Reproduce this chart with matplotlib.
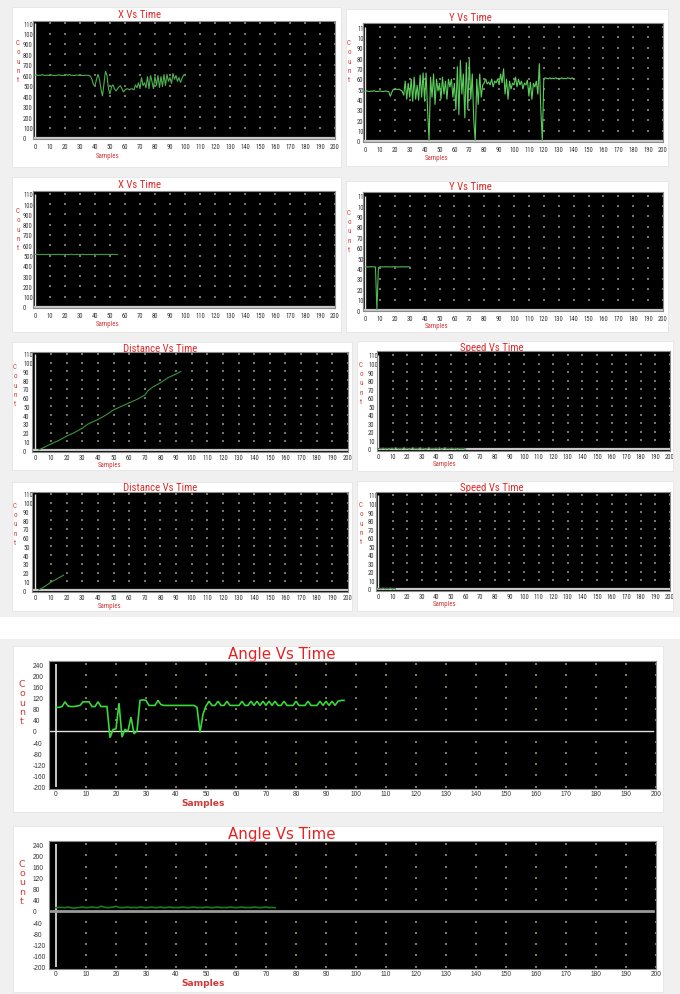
import numpy as np
import matplotlib
matplotlib.use("Agg")
import matplotlib.pyplot as plt
from matplotlib.transforms import Bbox, TransformedBbox
from matplotlib.patches import Rectangle
from matplotlib import font_manager

# ---------------- data ----------------
x_vs_time_1 = [600, 605, 598, 602, 600, 608, 600, 598, 602, 600,
               600, 603, 600, 597, 600, 600, 605, 600, 600, 600,
               602, 606, 600, 608, 600, 600, 598, 600, 603, 600,
               600, 600, 598, 600, 600, 600, 600,
               590, 560, 510, 500, 560, 610, 560, 470, 400, 520,
               640, 600, 470, 420, 490, 510, 470, 450, 470, 490,
               500, 470, 440, 460, 470, 470, 460, 470, 470, 460,
               510, 480, 530, 470, 580, 500, 530, 480, 590, 470,
               600, 540, 470, 590, 500, 600, 480, 590, 490, 610,
               500, 610, 540, 580, 520, 620, 560, 600, 540, 580,
               530, 570, 600, 610]

y_vs_time_1 = [480, 485, 480, 478, 482, 480, 485, 480, 478, 480,
               482, 480, 478, 480, 482, 480, 475, 430, 470, 500,
               495, 500, 498, 500, 490, 480, 440, 580, 400, 560,
               420, 600, 380, 620, 400, 540, 390, 640, 420, 660,
               380, 660, 300, 0, 620, 420, 650, 350, 600, 480,
               560, 400, 620, 450, 580, 400, 600, 520, 600, 420,
               560, 300, 720, 250, 780, 450, 650, 220, 760, 300,
               790, 400, 650, 200, 0, 600, 350, 650, 420, 540,
               560, 600, 550, 570, 540, 600, 520, 580, 560, 600,
               540, 650, 560, 700, 450, 600, 400, 580, 500, 560,
               540, 620, 520, 600, 540, 580, 500, 560, 540, 590,
               430, 570, 400, 560, 520, 580, 450, 750, 300, 0,
               600, 610, 605, 600, 610, 600, 605, 600, 610, 600,
               605, 600, 610, 600, 605, 600, 610, 605, 600, 610, 600]

x_vs_time_2 = [510, 512, 510, 508, 510, 511, 510, 509, 510, 512,
               510, 508, 510, 511, 509, 510, 512, 510, 508, 510,
               511, 510, 509, 510, 512, 510, 508, 510, 511, 510,
               509, 510, 512, 510, 508, 510, 511, 510, 509, 510,
               512, 510, 508, 510, 511, 510, 509, 510, 512, 510,
               508, 510, 511, 510, 509, 510]

y_vs_time_2 = [415, 415, 414, 415, 416, 415, 415, 414, 0, 405,
               415, 415, 414, 415, 416, 415, 415, 414, 415, 415,
               416, 415, 414, 415, 415, 416, 415, 414, 415, 415, 415]

distance_1_samples = [2, 10, 15, 20, 25, 30, 33, 35, 40, 45, 50, 55, 60, 65, 70, 72, 75, 80, 85, 90, 93]
distance_1_values = [0, 7, 11, 16, 20, 25, 29, 31, 35, 40, 46, 50, 54, 58, 63, 68, 72, 77, 83, 87, 90]

speed_1 = [0, 1, 0, 1, 1, 0, 1, 0, 0, 1, 1, 0, 2, 1, 0, 1, 0, 1, 2, 0,
           1, 0, 0, 1, 2, 0, 1, 0, 1, 2, 0, 1, 0, 0, 1, 2, 0, 1, 0, 1,
           1, 0, 2, 0, 0, 1, 2, 0, 1, 0, 1, 1, 0, 1, 0, 0, 1, 0, 1, 0, 0]

distance_2_samples = [2, 5, 10, 14, 18]
distance_2_values = [0, 3, 9, 13, 17]

speed_2 = [0, 1, 0, 1, 1, 0, 1, 0, 1, 1, 0, 1, 0]

angle_1 = [85, 85, 88, 105, 90, 88, 88, 90, 92, 105,
           105, 105, 88, 88, 105, 88, 88, 88, -24, 5,
           8, 100, -22, 5, 0, 50, -10, 0, 110, 112,
           110, 92, 92, 92, 110, 95, 92, 92, 92, 92,
           92, 92, 92, 92, 92, 92, 92, 85, -5, 60,
           90, 107, 92, 92, 107, 92, 92, 107, 92, 92,
           92, 92, 107, 92, 92, 107, 92, 107, 92, 107,
           92, 107, 92, 107, 92, 92, 107, 92, 92, 92,
           107, 92, 92, 92, 107, 92, 92, 92, 107, 92,
           107, 92, 107, 92, 107, 110, 110]

angle_2 = [12, 13, 13, 12, 14, 12, 10, 12, 13, 14, 12, 13, 14, 13, 12, 17, 14, 12, 13, 14,
           17, 13, 12, 13, 14, 12, 13, 12, 14, 13, 12, 13, 14, 12, 13, 14, 12, 13, 14, 12,
           13, 12, 14, 13, 12, 13, 14, 12, 13, 12, 14, 13, 12, 13, 14, 12, 13, 12, 14, 13,
           12, 13, 14, 12, 13, 12, 14, 13, 12, 13, 14, 12, 13, 12]

x_ticks = list(range(0, 201, 10))
count_ticks = list(range(0, 1101, 100))
dist_ticks = list(range(0, 111, 10))
angle_ticks = list(range(-200, 241, 40))

# ---------------- figure ----------------
W, H = 680, 995
fig = plt.figure(figsize=(W / 100, H / 100), dpi=100)
fig.patch.set_facecolor('white')

avail = {f.name for f in font_manager.fontManager.ttflist}
def fam(*names):
    return [n for n in names if n in avail] + ['DejaVu Sans']
NARROW = fam('Liberation Sans Narrow', 'Roboto Condensed', 'Liberation Sans')
SANS = fam('Liberation Sans')
VERD = ['DejaVu Sans']
narrow_ok = NARROW[0] in ('Liberation Sans Narrow', 'Roboto Condensed')


def rect_px(x0, y0, x1, y1):
    return [x0 / W, 1 - y1 / H, (x1 - x0) / W, (y1 - y0) / H]


def bbox_px(x0, y0, x1, y1):
    return TransformedBbox(Bbox.from_extents(x0 / W, 1 - y1 / H, x1 / W, 1 - y0 / H), fig.transFigure)


def frect(x0, y0, x1, y1, color, z=-5, ec='none'):
    fig.add_artist(Rectangle((x0 / W, 1 - y1 / H), (x1 - x0) / W, (y1 - y0) / H,
                             transform=fig.transFigure, facecolor=color, edgecolor=ec,
                             lw=0.6, zorder=z))


def ftext(x, y, s, **kw):
    fig.text(x / W, 1 - y / H, s, **kw)


# background
frect(0, 0, W, 618, '#f0f0f0', z=-10)
frect(0, 640, W, H, '#f0f0f0', z=-10)

TITLE_RED = '#e02a2a'
LABEL_RED = '#d23a3a'
k = 1.12 if narrow_ok else 1.0


def panel(card, black, x0px, pxu, y0px, pyu, yticks, title, title_xy, samples_xy, count_xy,
          xs, ys, color, lw, big=False, zero_line=None, padx=3.0):
    frect(*card, 'white', z=-4, ec='#e4e4e4')
    bl, bt, br, bb = black
    ax = fig.add_axes(rect_px(bl, bt, br, bb))
    ax.set_facecolor('black')
    ax.set_xlim((bl - x0px) / pxu, (br - x0px) / pxu)
    ax.set_ylim(-(bb - y0px) / pyu, (y0px - bt) / pyu)
    for s in ax.spines.values():
        s.set_color('#8a8a8a')
        s.set_linewidth(0.8)
    # dot grid
    gx, gy = np.meshgrid([t for t in x_ticks if t > 0], [t for t in yticks if t != 0])
    ax.scatter(gx.ravel(), gy.ravel(), s=0.6 if not big else 0.7,
               color='#7a7a58' if big else '#74746c', marker='s', linewidths=0, zorder=1)
    # axis lines
    ax.vlines(0, min(yticks), max(yticks), color='#e8e8e8', lw=1.0 if not big else 1.2, zorder=2)
    if zero_line is None:
        ax.axhline(0, color='#c8c8c8', lw=1.6, zorder=2)
    else:
        ax.axhline(0, xmin=0, xmax=0.995, color=zero_line[0], lw=zero_line[1], zorder=2)
    ax.plot(xs, ys, color=color, lw=lw, zorder=3, solid_joinstyle='miter')

    if big:
        fs, fam_t, pady, padx = 4.8, SANS, (bl - 33) * 0.72, 1.0
    else:
        fs, fam_t = 4.2 * k, NARROW
        pady = (bl - card[0] - 11) * 0.72
    ax.set_xticks(x_ticks, [str(t) for t in x_ticks])
    ax.set_yticks(yticks, [str(t) for t in yticks])
    ax.tick_params(length=0, labelsize=fs, colors='#333333')
    ax.tick_params(axis='y', pad=pady)
    ax.tick_params(axis='x', pad=padx)
    for lab in ax.get_yticklabels():
        lab.set_ha('left')
        lab.set_family(fam_t)
        lab.set_clip_on(True)
        lab.set_clip_box(bbox_px(card[0], card[1], bl - 0.5, card[3]))
    for lab in ax.get_xticklabels():
        lab.set_family(fam_t)
        lab.set_clip_on(True)
        lab.set_clip_box(bbox_px(*card))

    if big:
        ftext(*title_xy, title, ha='center', va='center', color='#e52222', fontsize=10.8, family=VERD)
        ftext(*samples_xy, 'Samples', ha='center', va='center', color=LABEL_RED, fontsize=6.6,
              family=VERD, weight='bold')
        ftext(*count_xy, '\n'.join('Count'), ha='center', va='center', color=LABEL_RED,
              fontsize=6.8, family=VERD, linespacing=1.05)
    else:
        ftext(*title_xy, title, ha='center', va='center', color=TITLE_RED, fontsize=6.9 * k,
              family=NARROW)
        ftext(*samples_xy, 'Samples', ha='center', va='center', color=LABEL_RED, fontsize=4.4 * k,
              family=NARROW)
        ftext(*count_xy, '\n'.join('Count'), ha='center', va='center', color=LABEL_RED,
              fontsize=5.0, family=NARROW, linespacing=1.45)
    return ax


def idx(v):
    return np.arange(len(v))

# row 1
panel((12, 8, 341, 168), (33, 22, 335, 140), 35, 1.525, 139, 0.1045, count_ticks,
      'X Vs Time', (140, 15), (108, 157), (18, 62),
      idx(x_vs_time_1), x_vs_time_1, '#4fae4f', 0.8)
panel((346, 10, 668, 167), (363, 24, 663, 143), 365, 1.49, 142, 0.1036, count_ticks,
      'Y Vs Time', (470, 18), (437, 159), (349, 62),
      idx(y_vs_time_1), y_vs_time_1, '#5ccc5c', 0.8)
# row 2
panel((12, 178, 341, 333), (33, 192, 335, 309), 35, 1.525, 308, 0.103, count_ticks,
      'X Vs Time', (140, 185), (108, 325), (18, 230),
      idx(x_vs_time_2), x_vs_time_2, '#3e9e3e', 0.8)
panel((346, 182, 668, 333), (363, 193, 663, 312), 365, 1.49, 311, 0.104, count_ticks,
      'Y Vs Time', (470, 187), (437, 327), (349, 232),
      idx(y_vs_time_2), y_vs_time_2, '#52b852', 0.8)
# row 3
panel((12, 343, 352, 471), (32, 353, 348, 453), 35.5, 1.575, 451, 0.873, dist_ticks,
      'Distance Vs Time', (160, 349), (110, 466), (15, 386),
      distance_1_samples, distance_1_values, '#3a963a', 0.8, padx=1.2)
panel((357, 342, 673, 472), (377, 352, 670, 452), 378, 1.46, 450, 0.855, dist_ticks,
      'Speed Vs Time', (492, 348), (445, 465), (361, 384),
      idx(speed_1), speed_1, '#2c7a2c', 0.8, padx=1.2)
# row 4
panel((12, 483, 352, 612), (32, 493, 348, 593), 35.5, 1.575, 591, 0.873, dist_ticks,
      'Distance Vs Time', (160, 488), (110, 606), (15, 525),
      distance_2_samples, distance_2_values, '#3a963a', 0.8, padx=1.2)
panel((357, 482, 673, 612), (376, 493, 670, 592), 378, 1.46, 590, 0.855, dist_ticks,
      'Speed Vs Time', (492, 488), (445, 605), (361, 524),
      idx(speed_2), speed_2, '#2c7a2c', 0.8, padx=1.2)
# angle panels
panel((13, 647, 663, 813), (49, 662, 656, 790), 56, 3.0, 732, 0.278, angle_ticks,
      'Angle Vs Time', (282, 655), (203, 804), (22, 703),
      idx(angle_1), angle_1, '#3ad83a', 1.2, big=True, zero_line=('#e0e0e0', 1.0))
panel((13, 827, 663, 993), (49, 842, 656, 970), 56, 3.0, 912, 0.278, angle_ticks,
      'Angle Vs Time', (282, 835), (203, 984), (22, 883),
      idx(angle_2), angle_2, '#1f7d1f', 1.2, big=True, zero_line=('#9a9a9a', 2.0))

fig.savefig('out.png', dpi=100, facecolor=fig.get_facecolor())
